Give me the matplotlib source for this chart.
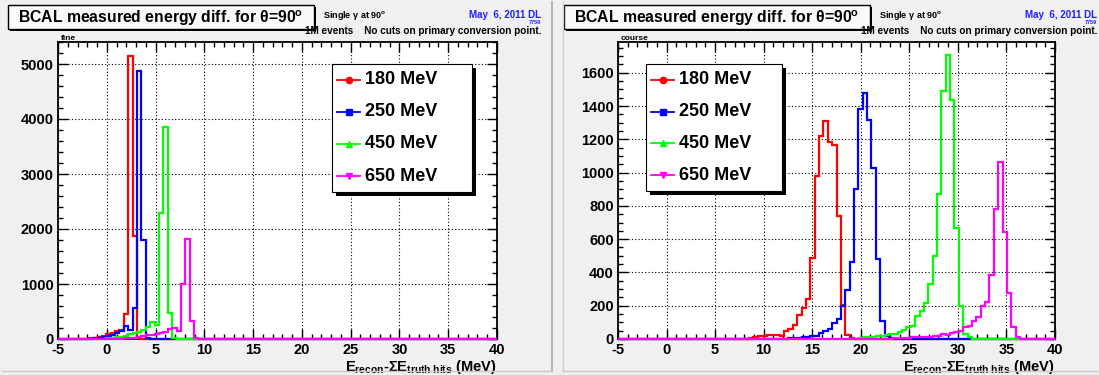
import numpy as np
import matplotlib
matplotlib.use('Agg')
import matplotlib.pyplot as plt
from matplotlib.patches import Rectangle
from matplotlib.lines import Line2D
from matplotlib.ticker import MultipleLocator

plt.rcParams['font.family'] = ['Liberation Sans', 'DejaVu Sans']
plt.rcParams['mathtext.fontset'] = 'custom'
plt.rcParams['mathtext.rm'] = 'Liberation Sans'
plt.rcParams['mathtext.bf'] = 'Liberation Sans:bold'
plt.rcParams['mathtext.it'] = 'Liberation Sans:italic'
plt.rcParams['axes.unicode_minus'] = False

W, H = 1099, 375

# 100 bins of 0.45 MeV between -5 and 40 MeV
bin_edges = np.linspace(-5, 40, 101)

labels = ['180 MeV', '250 MeV', '450 MeV', '650 MeV']
colors = ['#ff0000', '#0000ff', '#00ff00', '#ff00ff']
markers = ['o', 's', '^', 'v']

# "fine" histograms: first non-empty bin and bin contents
fine_180_start = 5
fine_180 = [5, 8, 12, 18, 40, 60, 85, 110, 140, 165, 455, 5140, 1865, 15]
fine_250_start = 7
fine_250 = [5, 10, 20, 35, 55, 80, 110, 145, 235, 155, 555, 4865, 1800, 10]
fine_450_start = 10
fine_450 = [5, 10, 20, 30, 45, 60, 85, 105, 130, 165, 210, 315, 250, 2295,
            3860, 465, 20]
fine_650_start = 14
fine_650 = [5, 10, 15, 25, 35, 50, 65, 80, 100, 115, 130, 175, 195, 140,
            1000, 1810, 335, 20]

# "course" histograms
course_180_start = 29
course_180 = [3, 6, 10, 18, 20, 25, 27, 22, 20, 47, 61, 83, 147, 185, 241,
              484, 978, 1218, 1308, 1186, 1164, 742, 205, 27, 5]
course_250_start = 38
course_250 = [3, 5, 5, 8, 10, 13, 17, 21, 37, 47, 61, 97, 123, 197, 293, 462,
              902, 1382, 1479, 1318, 1028, 478, 111, 21, 5]
course_450_start = 54
course_450 = [3, 5, 10, 12, 15, 18, 20, 25, 28, 33, 41, 53, 73, 81, 141, 167,
              217, 333, 501, 872, 1492, 1705, 1434, 668, 197, 33, 11, 3]
course_650_start = 62
course_650 = [3, 5, 5, 8, 8, 10, 10, 12, 13, 15, 17, 21, 29, 27, 37, 41, 47,
              73, 81, 107, 131, 197, 221, 385, 782, 1062, 642, 277, 73, 11, 3]


def full_hist(start, counts):
    h = np.zeros(len(bin_edges) - 1)
    h[start:start + len(counts)] = counts
    return h


fine_hists = [full_hist(fine_180_start, fine_180), full_hist(fine_250_start, fine_250),
              full_hist(fine_450_start, fine_450), full_hist(fine_650_start, fine_650)]
course_hists = [full_hist(course_180_start, course_180), full_hist(course_250_start, course_250),
                full_hist(course_450_start, course_450), full_hist(course_650_start, course_650)]


def fx(px):
    return px / W


def fy(py):
    return 1 - py / H


fig = plt.figure(figsize=(W / 100, H / 100), dpi=100, facecolor='#f0f0f0')

# pad borders
fig.add_artist(Line2D([fx(552), fx(552)], [fy(2), fy(371)], color='#a8a8a8', lw=1.2))
fig.add_artist(Line2D([fx(563), fx(563)], [fy(2), fy(371)], color='#d0d0d0', lw=1.0))
fig.add_artist(Line2D([fx(2), fx(552)], [fy(371), fy(371)], color='#c8c8c8', lw=1.0))
fig.add_artist(Line2D([fx(563), fx(1097)], [fy(371), fy(371)], color='#c8c8c8', lw=1.0))


def draw_panel(ax_px, hists, ymax, ymaj, ymin, tag, pad_x, legend_px):
    x0, x1, y0, y1 = ax_px
    ax = fig.add_axes([fx(x0), fy(y1), (x1 - x0) / W, (y1 - y0) / H])
    ax.set_facecolor('white')
    for h, c in zip(hists, colors):
        ax.stairs(h, bin_edges, color=c, lw=1.6, zorder=3, clip_on=False)
    ax.set_xlim(-5, 40)
    ax.set_ylim(0, ymax)
    ax.xaxis.set_major_locator(MultipleLocator(5))
    ax.xaxis.set_minor_locator(MultipleLocator(1))
    ax.yaxis.set_major_locator(MultipleLocator(ymaj))
    ax.yaxis.set_minor_locator(MultipleLocator(ymin))
    ax.tick_params(which='both', direction='in', top=True, right=True, width=1.0)
    ax.tick_params(which='major', length=7, labelsize=10.5, pad=3)
    ax.tick_params(which='minor', length=3.5)
    for lab in ax.get_xticklabels() + ax.get_yticklabels():
        lab.set_fontweight('bold')
    ax.grid(True, which='major', color='black', linestyle=(0, (1, 2)), lw=0.8)
    for sp in ax.spines.values():
        sp.set_linewidth(1.3)
    ax.text(1.0, -0.063, r'$\mathbf{E_{recon}}$-$\mathbf{\Sigma E_{truth\ hits}}$ (MeV)',
            transform=ax.transAxes, ha='right', va='top', fontsize=10.5,
            fontweight='bold')

    # small histogram tag above the frame
    fig.text(fx(x0 + 3), fy(38), tag, fontsize=6, fontweight='bold', va='center')

    # title box with shadow
    bx0, bx1, by0, by1 = pad_x + 8, pad_x + 314, 5, 29
    fig.add_artist(Rectangle((fx(bx0 + 2), fy(by1 + 2)), (bx1 - bx0) / W, (by1 - by0) / H,
                             transform=fig.transFigure, fc='black', ec='none'))
    fig.add_artist(Rectangle((fx(bx0), fy(by1)), (bx1 - bx0) / W, (by1 - by0) / H,
                             transform=fig.transFigure, fc='#fafafa', ec='black', lw=1.0))
    fig.text(fx((bx0 + bx1) / 2), fy((by0 + by1) / 2 + 1),
             r'BCAL measured energy diff. for θ=90$^{\mathbf{o}}$',
             ha='center', va='center', fontsize=11.3, fontweight='bold')

    fig.text(fx(pad_x + 323), fy(16), r'Single γ at 90$^{\mathbf{o}}$',
             fontsize=6.5, fontweight='bold', va='center')
    fig.text(fx(pad_x + 541), fy(15), 'May  6, 2011 DL', fontsize=7,
             fontweight='bold', color='#2020ff', ha='right', va='center')
    fig.text(fx(pad_x + 541), fy(22.5), '7759', fontsize=4, fontweight='bold',
             color='#2020ff', ha='right', va='center')
    fig.text(fx(pad_x + 541), fy(30.5), '1M events    No cuts on primary conversion point.',
             fontsize=7.2, fontweight='bold', ha='right', va='center')

    # legend box with shadow
    lx0, lx1, ly0, ly1 = legend_px
    fig.add_artist(Rectangle((fx(lx0 + 4), fy(ly1 + 4)), (lx1 - lx0) / W, (ly1 - ly0) / H,
                             transform=fig.transFigure, fc='black', ec='none'))
    fig.add_artist(Rectangle((fx(lx0), fy(ly1)), (lx1 - lx0) / W, (ly1 - ly0) / H,
                             transform=fig.transFigure, fc='white', ec='black', lw=0.8))
    step = (ly1 - ly0) / 4
    for i, (lab, c, m) in enumerate(zip(labels, colors, markers)):
        yc = ly0 + step * (i + 0.5)
        fig.add_artist(Line2D([fx(lx0 + 5), fx(lx0 + 28)], [fy(yc), fy(yc)], color=c, lw=1.3))
        fig.add_artist(Line2D([fx(lx0 + 16.5)], [fy(yc)], color=c, marker=m,
                              markersize=4.5, lw=0))
        fig.text(fx(lx0 + 33), fy(yc), lab, fontsize=13, fontweight='bold', va='center')
    return ax


draw_panel((58, 497, 42, 339), fine_hists, 5400, 1000, 200, 'fine', 0, (332, 472, 64, 192))
draw_panel((618, 1055, 42, 339), course_hists, 1785, 200, 50, 'course', 556, (646, 782, 64, 191))

fig.savefig('out.png', dpi=100, facecolor=fig.get_facecolor())
